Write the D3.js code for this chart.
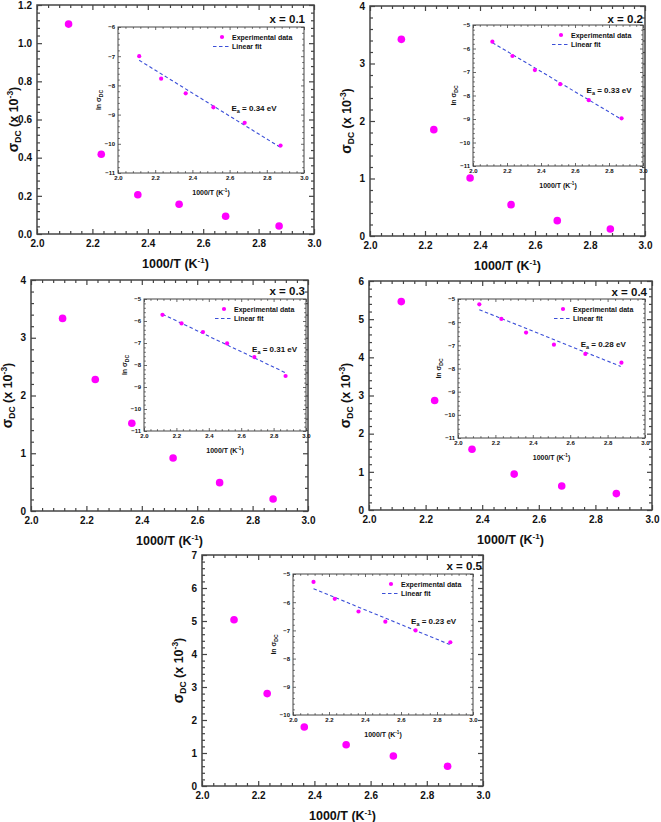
<!DOCTYPE html>
<html><head><meta charset="utf-8">
<script src="https://cdn.jsdelivr.net/npm/d3@7"></script>
<style>body{margin:0;background:#fff}svg{display:block}text{font-family:"Liberation Sans",Arial,sans-serif;font-weight:bold;fill:#111}</style>
</head><body>
<script>
// ---- data ----
const invT = [2.114, 2.232, 2.364, 2.513, 2.681, 2.874];
const compositions = ["0.1", "0.2", "0.3", "0.4", "0.5"];
const sigma01 = [1.10, 0.418, 0.206, 0.156, 0.093, 0.042];
const sigma02 = [3.42, 1.85, 1.01, 0.545, 0.267, 0.122];
const sigma03 = [3.335, 2.277, 1.52, 0.919, 0.491, 0.208];
const sigma04 = [5.46, 2.87, 1.59, 0.94, 0.63, 0.43];
const sigma05 = [5.04, 2.80, 1.79, 1.25, 0.91, 0.60];
const lnSigma01 = [-7.00, -7.77, -8.27, -8.75, -9.28, -10.06];
const lnSigma02 = [-5.71, -6.32, -6.92, -7.52, -8.20, -8.97];
const lnSigma03 = [-5.72, -6.11, -6.50, -7.02, -7.64, -8.50];
const lnSigma04 = [-5.23, -5.86, -6.45, -6.97, -7.37, -7.75];
const lnSigma05 = [-5.28, -5.88, -6.33, -6.69, -7.00, -7.42];
const fitX = [2.114, 2.87];
const fit01 = [-7.14, -10.11];
const fit02 = [-5.75, -9.00];
const fit03 = [-5.69, -8.34];
const fit04 = [-5.46, -7.91];
const fit05 = [-5.52, -7.50];
const activationEnergy = ["0.34", "0.33", "0.31", "0.28", "0.23"];
const mainYMax = [1.2, 4, 4, 6, 7];
const mainYStep = [0.2, 1, 1, 1, 1];
const insetYDomain = [[-11, -6], [-11, -5], [-11, -5], [-11, -5], [-10, -5]];
const xTicks = [2.0, 2.2, 2.4, 2.6, 2.8, 3.0];

const sigmaSeries = [sigma01, sigma02, sigma03, sigma04, sigma05];
const lnSeries = [lnSigma01, lnSigma02, lnSigma03, lnSigma04, lnSigma05];
const fitSeries = [fit01, fit02, fit03, fit04, fit05];

// ---- layout ----
const layouts = [
  {main: {l: 37, r: 314, t: 5, b: 234}, inset: {l: 118, r: 304, t: 27, b: 173}, tag: [305, 22.5], ea: [2.61, -8.78]},
  {main: {l: 370, r: 645, t: 6, b: 236}, inset: {l: 473, r: 643, t: 25, b: 166}, tag: [643, 22.5], ea: [2.668, -7.77]},
  {main: {l: 31, r: 308, t: 280, b: 511}, inset: {l: 144, r: 306, t: 299, b: 431}, tag: [305, 295], ea: [2.667, -7.27]},
  {main: {l: 369, r: 652, t: 281, b: 510}, inset: {l: 458, r: 645, t: 299, b: 438}, tag: [647, 296], ea: [2.656, -6.94]},
  {main: {l: 202, r: 483, t: 555, b: 786}, inset: {l: 293, r: 473, t: 574, b: 715}, tag: [482, 570], ea: [2.656, -6.65]}
];

const W = 661, H = 822;
const svg = d3.select("body").append("svg").attr("width", W).attr("height", H);
const MAG = "#ff00ff", FRAME = "#444", FIT = "#3b4fd8";

function minorVals(domain, step, n) {
  const out = [];
  const s = step / n;
  for (let v = domain[0]; v <= domain[1] + 1e-9; v += s) {
    const r = Math.round(v / s) * s;
    if (Math.abs(r / step - Math.round(r / step)) > 1e-6) out.push(+r.toFixed(4));
  }
  return out;
}
function majorVals(domain, step) {
  const out = [];
  for (let i = 0; domain[0] + i * step <= domain[1] + 1e-9; i++) out.push(+(domain[0] + i * step).toFixed(4));
  return out;
}

function drawFrame(g, x, y, box, opts) {
  const xMaj = xTicks, xMin = minorVals([2, 3], 0.2, 5);
  const yMaj = majorVals(y.domain(), opts.yStep), yMin = minorVals(y.domain(), opts.yStep, opts.yMinorN);
  const L = opts.major, l = opts.minor;
  const mk = (axisFn, scale, vals, size, fmt, tr, pad) => {
    const a = axisFn(scale).tickValues(vals).tickSizeInner(-size).tickSizeOuter(0).tickPadding(pad || 3);
    a.tickFormat(fmt || (() => ""));
    const gg = g.append("g").attr("transform", tr).call(a);
    gg.select(".domain").remove();
    gg.selectAll("line").attr("stroke", FRAME).attr("stroke-width", opts.sw);
    gg.selectAll("text").attr("font-size", opts.fs).attr("fill", "#111");
    gg.attr("font-family", null).attr("font-size", null);
    return gg;
  };
  mk(d3.axisBottom, x, xMaj, L, opts.xFmt, `translate(0,${box.b})`, opts.padX);
  mk(d3.axisBottom, x, xMin, l, null, `translate(0,${box.b})`);
  mk(d3.axisTop, x, xMaj, L, null, `translate(0,${box.t})`);
  mk(d3.axisTop, x, xMin, l, null, `translate(0,${box.t})`);
  mk(d3.axisLeft, y, yMaj, L, opts.yFmt, `translate(${box.l},0)`, opts.padY);
  mk(d3.axisLeft, y, yMin, l, null, `translate(${box.l},0)`);
  mk(d3.axisRight, y, yMaj, L, null, `translate(${box.r},0)`);
  mk(d3.axisRight, y, yMin, l, null, `translate(${box.r},0)`);
  g.append("rect").attr("x", box.l).attr("y", box.t).attr("width", box.r - box.l).attr("height", box.b - box.t)
    .attr("fill", "none").attr("stroke", FRAME).attr("stroke-width", opts.frameW);
}

function xTitle(g, cx, y, fs) {
  const t = g.append("text").attr("x", cx).attr("y", y).attr("text-anchor", "middle").attr("font-size", fs);
  t.append("tspan").text("1000/T (K");
  t.append("tspan").attr("dy", -fs * 0.4).attr("font-size", fs * 0.65).text("-1");
  t.append("tspan").attr("dy", fs * 0.4).text(")");
}

layouts.forEach((lay, i) => {
  const g = svg.append("g");
  const m = lay.main;
  const x = d3.scaleLinear().domain([2, 3]).range([m.l, m.r]);
  const y = d3.scaleLinear().domain([0, mainYMax[i]]).range([m.b, m.t]);
  const step = mainYStep[i];
  drawFrame(g, x, y, m, {
    yStep: step, yMinorN: 5, major: 5, minor: 3, sw: 1.2, padX: 6, padY: 5, fs: 10, frameW: 1.5,
    xFmt: d3.format(".1f"), yFmt: step < 1 ? d3.format(".1f") : d3.format("d")
  });
  xTitle(g, (m.l + m.r) / 2, m.b + 34, 12.5);
  const yt = g.append("text").attr("transform", `translate(${m.l - 19},${(m.t + m.b) / 2}) rotate(-90)`)
    .attr("text-anchor", "middle").attr("font-size", 12.5);
  yt.append("tspan").attr("font-size", 14).text("σ");
  yt.append("tspan").attr("dy", 3).attr("font-size", 8.5).text("DC");
  yt.append("tspan").attr("dy", -3).text(" (x 10");
  yt.append("tspan").attr("dy", -5).attr("font-size", 8.5).text("-3");
  yt.append("tspan").attr("dy", 5).text(")");
  g.selectAll("circle.main").data(invT.map((v, k) => [v, sigmaSeries[i][k]])).join("circle")
    .attr("cx", d => x(d[0])).attr("cy", d => y(d[1])).attr("r", 3.8).attr("fill", MAG);
  g.append("text").attr("x", lay.tag[0]).attr("y", lay.tag[1]).attr("text-anchor", "end").attr("font-size", 11.5)
    .text("x = " + compositions[i]);

  // inset
  const b = lay.inset;
  const xi = d3.scaleLinear().domain([2, 3]).range([b.l, b.r]);
  const yi = d3.scaleLinear().domain(insetYDomain[i]).range([b.b, b.t]);
  g.append("rect").attr("x", b.l).attr("y", b.t).attr("width", b.r - b.l).attr("height", b.b - b.t).attr("fill", "#fff");
  drawFrame(g, xi, yi, b, {
    yStep: 1, yMinorN: 5, major: 3, minor: 1.8, sw: 0.8, padX: 3, padY: 3, fs: 6, frameW: 1,
    xFmt: d3.format(".1f"), yFmt: d3.format("d")
  });
  xTitle(g, (b.l + b.r) / 2, b.b + 22, 7);
  const iyt = g.append("text").attr("transform", `translate(${b.l - 17},${(b.t + b.b) / 2}) rotate(-90)`)
    .attr("text-anchor", "middle").attr("font-size", 7);
  iyt.append("tspan").text("ln σ");
  iyt.append("tspan").attr("dy", 2).attr("font-size", 5).text("DC");
  g.append("line").attr("x1", xi(fitX[0])).attr("y1", yi(fitSeries[i][0])).attr("x2", xi(fitX[1])).attr("y2", yi(fitSeries[i][1]))
    .attr("stroke", FIT).attr("stroke-width", 1.1).attr("stroke-dasharray", "3.5,2.5");
  g.selectAll("circle.inset").data(invT.map((v, k) => [v, lnSeries[i][k]])).join("circle")
    .attr("cx", d => xi(d[0])).attr("cy", d => yi(d[1])).attr("r", 2.1).attr("fill", MAG);
  const lx = b.r - 72, ly = b.t + 10;
  g.append("circle").attr("cx", lx - 10).attr("cy", ly).attr("r", 2.1).attr("fill", MAG);
  g.append("text").attr("x", lx).attr("y", ly + 2.5).attr("font-size", 7).text("Experimental data");
  g.append("line").attr("x1", lx - 19).attr("x2", lx - 1).attr("y1", ly + 9.5).attr("y2", ly + 9.5)
    .attr("stroke", FIT).attr("stroke-width", 1.1).attr("stroke-dasharray", "3.5,2.5");
  g.append("text").attr("x", lx).attr("y", ly + 12).attr("font-size", 7).text("Linear fit");
  const ea = g.append("text").attr("x", xi(lay.ea[0])).attr("y", yi(lay.ea[1]) + 3).attr("font-size", 8);
  ea.append("tspan").text("E");
  ea.append("tspan").attr("dy", 2).attr("font-size", 5.5).text("a");
  ea.append("tspan").attr("dy", -2).text(" = " + activationEnergy[i] + " eV");
});
</script>
</body></html>
